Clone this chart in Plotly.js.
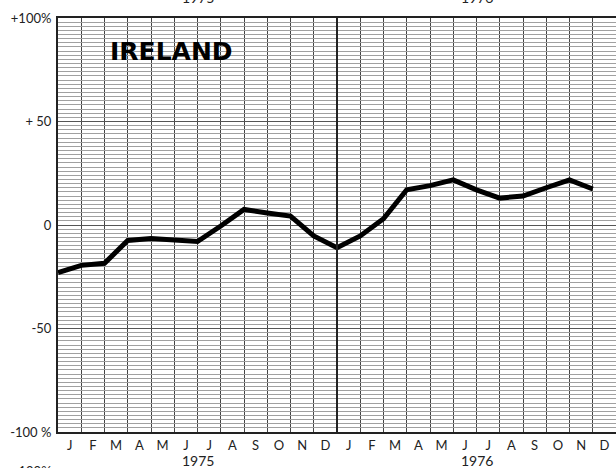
<!DOCTYPE html>
<html>
<head>
<meta charset="utf-8">
<script src="https://cdn.plot.ly/plotly-3.0.1.min.js"></script>
<style>
  html, body { margin: 0; padding: 0; background: #fff; }
  #chart { width: 616px; height: 468px; }
</style>
</head>
<body>
<div id="chart"></div>
<script>
// month index 0..23 (Jan 1975 .. Dec 1976), value in % change
const monthIndex = [0, 1, 2, 3, 4, 5, 6, 7, 8, 9, 10, 11, 12, 13, 14, 15, 16, 17, 18, 19, 20, 21, 22, 23];
const irelandValues = [-23, -19.5, -18.5, -7.5, -6.5, -7, -8, -0.5, 7.5, 5.8, 4.3, -5.3, -11, -5.3, 3, 17, 19, 21.8, 17, 13, 14, 18, 21.8, 17.4];

const monthLabels = ["J", "F", "M", "A", "M", "J", "J", "A", "S", "O", "N", "D",
	"J", "F", "M", "A", "M", "J", "J", "A", "S", "O", "N", "D"];
const monthTickPos = monthLabels.map((m, i) => i + 0.5);

const yTickVals = [100, 50, 0, -50, -100];
const yTickText = ["+100%", "+ 50", "0", "-50", "-100 %"];

const years = ["1975", "1976"];
const yearPos = [6, 18];

const labelFont = { family: "Lato, 'Open Sans', sans-serif", size: 13, color: "#222" };

let trace = {
	x: monthIndex,
	y: irelandValues,
	type: "scatter",
	mode: "lines",
	line: { color: "#000", width: 5 },
	hoverinfo: "skip",
};

let annotations = [
	{
		text: "<b>IRELAND</b>",
		xref: "paper", yref: "paper",
		x: 0.0896, y: 0.918,
		xanchor: "left", yanchor: "middle",
		showarrow: false,
		font: { family: "'DejaVu Sans', sans-serif", size: 25, color: "#000" },
	},
];

// year labels under the months
years.forEach((yr, i) => {
	annotations.push({
		text: yr,
		xref: "x", yref: "paper",
		x: yearPos[i], y: -0.069,
		xanchor: "center", yanchor: "middle",
		showarrow: false,
		font: { family: labelFont.family, size: 14, color: "#222" },
	});
	// year labels of the chart above, cut by the top edge
	annotations.push({
		text: yr,
		xref: "x", yref: "paper",
		x: yearPos[i], y: 1.05,
		xanchor: "center", yanchor: "middle",
		showarrow: false,
		font: { family: labelFont.family, size: 14, color: "#222" },
	});
});

// axis label of the chart below, cut by the bottom edge
annotations.push({
	text: "+100%",
	xref: "paper", yref: "paper",
	x: -0.008, y: -0.093,
	xanchor: "right", yanchor: "middle",
	showarrow: false,
	font: labelFont,
});

let layout = {
	width: 616,
	height: 468,
	margin: { l: 58, r: 0, t: 18, b: 36 },
	paper_bgcolor: "#fff",
	plot_bgcolor: "#fff",
	showlegend: false,
	xaxis: {
		range: [0, 24],
		tickmode: "array",
		tickvals: monthTickPos,
		ticktext: monthLabels,
		ticks: "",
		showgrid: false,
		zeroline: false,
		showline: true,
		linecolor: "#222",
		linewidth: 2,
		mirror: true,
		tickfont: labelFont,
		fixedrange: true,
		minor: {
			tickmode: "linear",
			tick0: 0,
			dtick: 1,
			showgrid: true,
			gridcolor: "#444",
			gridwidth: 1,
			ticks: "",
		},
	},
	yaxis: {
		range: [-100, 100],
		tickmode: "array",
		tickvals: yTickVals,
		ticktext: yTickText,
		ticks: "",
		ticklabelstandoff: 2,
		showgrid: true,
		gridcolor: "#555",
		gridwidth: 1,
		zeroline: false,
		showline: true,
		linecolor: "#222",
		linewidth: 2,
		mirror: true,
		tickfont: labelFont,
		fixedrange: true,
		minor: {
			tickmode: "linear",
			tick0: 0,
			dtick: 2,
			showgrid: true,
			gridcolor: "#a0a0a0",
			gridwidth: 1,
			ticks: "",
		},
	},
	shapes: [
		{
			type: "line",
			xref: "x", yref: "paper",
			x0: 12, x1: 12, y0: 0, y1: 1,
			line: { color: "#222", width: 2 },
			layer: "above",
		},
	],
	annotations: annotations,
};

Plotly.newPlot("chart", [trace], layout, { staticPlot: true, displayModeBar: false });
</script>
</body>
</html>
